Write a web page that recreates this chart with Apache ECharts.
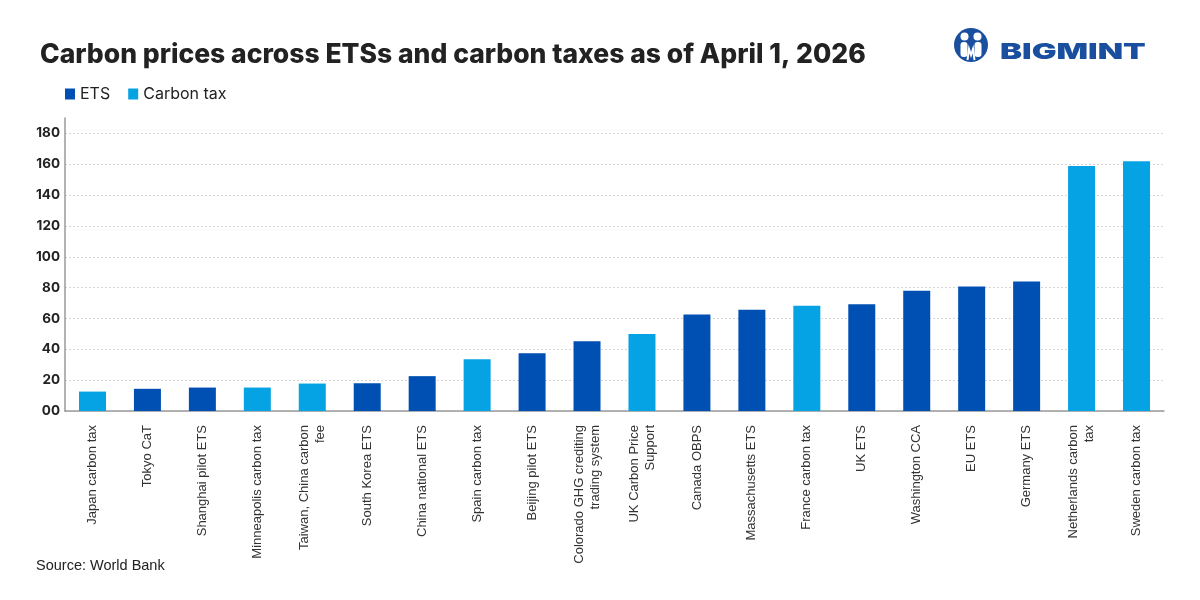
<!DOCTYPE html>
<html>
<head>
<meta charset="utf-8">
<script src="https://cdn.jsdelivr.net/npm/echarts@6/dist/echarts.min.js"></script>
<style>
html,body{margin:0;padding:0;background:#fff;}
#main{width:1200px;height:600px;}
</style>
</head>
<body>
<div id="main"></div>
<script>
const categories = [
  'Japan carbon tax', 'Tokyo CaT', 'Shanghai pilot ETS', 'Minneapolis carbon tax',
  'Taiwan, China carbon\nfee', 'South Korea ETS', 'China national ETS', 'Spain carbon tax',
  'Beijing pilot ETS', 'Colorado GHG crediting\ntrading system', 'UK Carbon Price\nSupport',
  'Canada OBPS', 'Massachusetts ETS', 'France carbon tax', 'UK ETS', 'Washington CCA',
  'EU ETS', 'Germany ETS', 'Netherlands carbon\ntax', 'Sweden carbon tax'
];
const prices = [12.6, 14.4, 15.2, 15.2, 17.8, 18.0, 22.6, 33.5, 37.4, 45.3, 50.0,
  62.5, 65.7, 68.3, 69.2, 77.9, 80.7, 84.0, 158.9, 162.0];
const types = ['Carbon tax', 'ETS', 'ETS', 'Carbon tax', 'Carbon tax', 'ETS', 'ETS', 'Carbon tax',
  'ETS', 'ETS', 'Carbon tax', 'ETS', 'ETS', 'Carbon tax', 'ETS', 'ETS', 'ETS', 'ETS',
  'Carbon tax', 'Carbon tax'];
const seriesNames = ['ETS', 'Carbon tax'];
const yTicks = [0, 20, 40, 60, 80, 100, 120, 140, 160, 180];

const colors = { 'ETS': '#0050B3', 'Carbon tax': '#05A3E3' };

const chart = echarts.init(document.getElementById('main'));
const series = seriesNames.map(name => ({
  name: name,
  type: 'bar',
  stack: 'all',
  barWidth: 27,
  itemStyle: { color: colors[name] },
  data: prices.map((v, i) => types[i] === name ? v : null)
}));

chart.setOption({
  animation: false,
  backgroundColor: '#ffffff',
  title: {
    text: 'Carbon prices across ETSs and carbon taxes as of April 1, 2026',
    left: 35, top: 37,
    textStyle: { fontFamily: 'Inter', fontWeight: 800, fontSize: 26.5, color: '#222222' }
  },
  legend: {
    data: seriesNames,
    left: 60, top: 81,
    icon: 'rect', itemWidth: 10, itemHeight: 11, itemGap: 18,
    textStyle: { fontFamily: 'Inter', fontSize: 16, color: '#222222' }
  },
  grid: { left: 65, right: 36, top: 118, bottom: 189, containLabel: false },
  xAxis: {
    type: 'category',
    data: categories,
    axisLine: { lineStyle: { color: '#9a9a9a', width: 1.5 } },
    axisTick: { show: false },
    axisLabel: {
      rotate: 90, interval: 0, margin: 14,
      fontFamily: 'Liberation Sans', fontSize: 13, color: '#333333', lineHeight: 16
    }
  },
  yAxis: {
    type: 'value',
    min: 0, max: 190, interval: 20,
    axisLine: { show: true, lineStyle: { color: '#9a9a9a', width: 1.5 } },
    axisTick: { show: false },
    axisLabel: {
      showMaxLabel: false, margin: 5,
      fontFamily: 'Inter', fontWeight: 700, fontSize: 13.5, color: '#222222',
      formatter: v => (yTicks.indexOf(v) < 0 ? '' : (v === 0 ? '00' : String(v)))
    },
    splitLine: { show: true, showMaxLine: false, lineStyle: { color: '#d6d6d6', type: [2, 2] } }
  },
  graphic: [
    { type: 'text', left: 36, top: 558,
      style: { text: 'Source: World Bank', fontFamily: 'Liberation Sans', fontSize: 14.5, fill: '#222222' } },
    { type: 'group', left: 954, top: 28, children: [
      { type: 'circle', shape: { cx: 17, cy: 17, r: 17 }, style: { fill: '#1A4FA0' } },
      { type: 'circle', shape: { cx: 10.5, cy: 8.5, r: 4 }, style: { fill: '#ffffff' } },
      { type: 'circle', shape: { cx: 23.5, cy: 8.5, r: 4 }, style: { fill: '#ffffff' } },
      { type: 'rect', shape: { x: 6.5, y: 14, width: 7, height: 15, r: 3 }, style: { fill: '#ffffff' } },
      { type: 'rect', shape: { x: 20.5, y: 14, width: 7, height: 15, r: 3 }, style: { fill: '#ffffff' } },
      { type: 'polyline', shape: { points: [[13.5, 32], [15, 21], [17, 27], [19, 21], [20.5, 32]] },
        style: { stroke: '#ffffff', lineWidth: 2, fill: null } }
    ]},
    { type: 'text', x: 1000, y: 41, scaleX: 1.5, scaleY: 1,
      style: { text: 'BIGMINT', fontFamily: 'Inter', fontWeight: 900, fontSize: 22, fill: '#1A4FA0' } }
  ],
  series: series
});
</script>
</body>
</html>
